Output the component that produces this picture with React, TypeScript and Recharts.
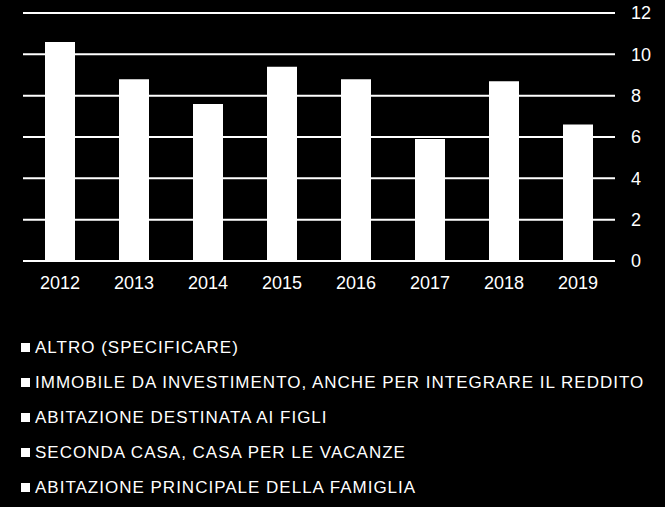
import { BarChart, Bar, XAxis, YAxis, CartesianGrid, Legend } from 'recharts';

const YEARS = ['2012', '2013', '2014', '2015', '2016', '2017', '2018', '2019'];
const VALUES = [10.6, 8.8, 7.6, 9.4, 8.8, 5.9, 8.7, 6.6];
const Y_TICKS = [0, 2, 4, 6, 8, 10, 12];
const LEGEND_LABELS = [
  'ALTRO (SPECIFICARE)',
  'IMMOBILE DA INVESTIMENTO, ANCHE PER INTEGRARE IL REDDITO',
  'ABITAZIONE DESTINATA AI FIGLI',
  'SECONDA CASA, CASA PER LE VACANZE',
  'ABITAZIONE PRINCIPALE DELLA FAMIGLIA',
];

const FONT = '"Liberation Sans", Arial, sans-serif';

const data = YEARS.map((year, i) => ({ year, value: VALUES[i] }));

const renderLegend = () => (
  <div style={{ fontFamily: FONT }}>
    {LEGEND_LABELS.map(label => (
      <div
        key={label}
        style={{ height: 35, display: 'flex', alignItems: 'center', paddingLeft: 21 }}
      >
        <span style={{ width: 9, height: 9, background: '#fff', marginRight: 5, flexShrink: 0 }} />
        <span style={{ color: '#fff', fontSize: 17, letterSpacing: 1, whiteSpace: 'nowrap' }}>{label}</span>
      </div>
    ))}
  </div>
);

export default function App() {
  return (
    <div style={{ position: 'absolute', top: 0, left: 0, width: 665, height: 507, background: '#000' }}>
      <BarChart
        width={665}
        height={507}
        data={data}
        margin={{ top: 13, right: 0, bottom: 216, left: 23 }}
        barSize={30}
      >
        <CartesianGrid horizontal vertical={false} stroke="#fff" strokeWidth={2} />
        <XAxis
          dataKey="year"
          axisLine={false}
          tickLine={false}
          tickSize={0}
          tickMargin={15}
          height={30}
          tick={{ fill: '#fff', fontSize: 18, fontFamily: FONT }}
        />
        <YAxis
          orientation="right"
          domain={[0, 12]}
          ticks={Y_TICKS}
          width={50}
          axisLine={false}
          tickLine={false}
          tickSize={0}
          tickMargin={16}
          tick={{ fill: '#fff', fontSize: 18, fontFamily: FONT, textAnchor: 'start' }}
        />
        <Legend
          layout="vertical"
          align="center"
          verticalAlign="middle"
          content={renderLegend}
          wrapperStyle={{ top: 330, left: 0, width: 665 }}
        />
        <Bar dataKey="value" fill="#fff" isAnimationActive={false} />
      </BarChart>
    </div>
  );
}
